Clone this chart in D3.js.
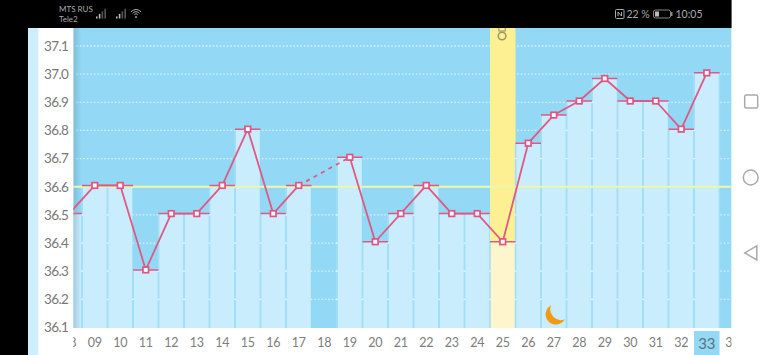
<!DOCTYPE html>
<html>
<head>
<meta charset="utf-8">
<script src="https://cdn.jsdelivr.net/npm/d3@7"></script>
<style>
  html, body { margin: 0; padding: 0; background: #fff; }
  svg { display: block; }
  text { font-family: Lato, sans-serif; }
</style>
</head>
<body>
<div class="canvas"></div>
<script>
// chart data
const days = ['08','09','10','11','12','13','14','15','16','17','18','19','20','21','22','23','24','25','26','27','28','29','30','31','32','33','34'];
const temps = [36.5,36.6,36.6,36.3,36.5,36.5,36.6,36.8,36.5,36.6,null,36.7,36.4,36.5,36.6,36.5,36.5,36.4,36.75,36.85,36.9,36.98,36.9,36.9,36.8,37.0,null];
const yTicks = [36.1,36.2,36.3,36.4,36.5,36.6,36.7,36.8,36.9,37.0,37.1];
const coverline = 36.6;
const ovulationDay = '25';
const moonDay = '27';
const todayDay = '33';

const svg = d3.select('.canvas').append('svg').attr('width', 770).attr('height', 355);

// plot area inside the phone screenshot
const plot = {left: 73.3, right: 731.6, top: 28, bottom: 328};

// scales
const x = d3.scaleBand().domain(days).range([56.5, 745]);
const y = d3.scaleLinear().domain([36.1, 37.1]).range([327.5, 46]);
// the temperature marks sit a bit above their grid lines in the app
const yMark = d3.scaleLinear().domain([36.1, 37.1]).range([326.2, 44.7]);
const cx = d => x(d) + x.bandwidth() / 2;

// phone chrome behind the chart
svg.append('rect').attr('width', 28).attr('height', 355).attr('fill', '#000');
svg.append('rect').attr('x', 28).attr('y', 28).attr('width', 10.3).attr('height', 327).attr('fill', '#cfeefb');

const defs = svg.append('defs');
defs.append('clipPath').attr('id', 'plotClip').append('rect')
  .attr('x', plot.left).attr('y', plot.top)
  .attr('width', plot.right - plot.left).attr('height', plot.bottom - plot.top);
defs.append('clipPath').attr('id', 'axisClip').append('rect')
  .attr('x', plot.left).attr('y', plot.bottom)
  .attr('width', plot.right - plot.left).attr('height', 355 - plot.bottom);
const shade = defs.append('linearGradient').attr('id', 'edgeShade');
shade.append('stop').attr('offset', 0).attr('stop-color', '#5b8ca5').attr('stop-opacity', 0.35);
shade.append('stop').attr('offset', 1).attr('stop-color', '#5b8ca5').attr('stop-opacity', 0);

const graph = svg.append('g').attr('clip-path', 'url(#plotClip)');

graph.append('rect')
  .attr('x', plot.left).attr('y', plot.top)
  .attr('width', plot.right - plot.left).attr('height', plot.bottom - plot.top)
  .attr('fill', '#93d8f4');

// dotted grid
graph.selectAll('.grid').data(yTicks.slice(1)).enter().append('line')
  .attr('x1', plot.left + 3).attr('x2', plot.right)
  .attr('y1', d => y(d)).attr('y2', d => y(d))
  .attr('stroke', '#d8f3fd').attr('stroke-width', 1.3).attr('stroke-dasharray', '1.5 2');

// ovulation day column
graph.append('rect')
  .attr('x', x(ovulationDay)).attr('y', plot.top)
  .attr('width', x.bandwidth()).attr('height', plot.bottom - plot.top)
  .attr('fill', '#fdf093');

// temperature bars
const barData = days.map((d, i) => ({day: d, temp: temps[i]})).filter(d => d.temp !== null);
graph.selectAll('.bar').data(barData).enter().append('rect')
  .attr('x', d => x(d.day) + 0.7)
  .attr('y', d => yMark(d.temp))
  .attr('width', x.bandwidth() - 1.4)
  .attr('height', d => plot.bottom - yMark(d.temp))
  .attr('fill', d => d.day === ovulationDay ? '#fdf6cc' : '#c9edfd');

// column separators
graph.selectAll('.sep').data(barData).enter().append('line')
  .attr('x1', d => x(d.day)).attr('x2', d => x(d.day))
  .attr('y1', d => yMark(d.temp)).attr('y2', plot.bottom)
  .attr('stroke', '#a3def6').attr('stroke-width', 1.4);

// right edge of the last bar
const lastBar = barData[barData.length - 1];
graph.append('line')
  .attr('x1', x(lastBar.day) + x.bandwidth()).attr('x2', x(lastBar.day) + x.bandwidth())
  .attr('y1', yMark(lastBar.temp)).attr('y2', plot.bottom)
  .attr('stroke', '#a3def6').attr('stroke-width', 1.4);

// the grid shows through as small gaps on the separators
barData.forEach(d => {
  yTicks.slice(1).filter(t => y(t) > yMark(d.temp) + 2 && t !== coverline).forEach(t => {
    graph.append('line')
      .attr('x1', x(d.day) - 1).attr('x2', x(d.day) + 1)
      .attr('y1', y(t)).attr('y2', y(t))
      .attr('stroke', '#e4f7fe').attr('stroke-width', 1.3);
  });
});

// shadow on the left edge, the chart scrolls under the axis
graph.append('rect')
  .attr('x', plot.left).attr('y', plot.top)
  .attr('width', 8).attr('height', plot.bottom - plot.top)
  .attr('fill', 'url(#edgeShade)');

// coverline
graph.append('line')
  .attr('x1', plot.left).attr('x2', plot.right)
  .attr('y1', y(coverline)).attr('y2', y(coverline))
  .attr('stroke', '#eef6a8').attr('stroke-width', 1.8);

// temperature line, a gap in the data is bridged by a dashed piece
const pink = '#dd5a84';
const line = d3.line().x(d => cx(d.day)).y(d => yMark(d.temp));
for (let i = 1; i < barData.length; i++) {
  const a = barData[i - 1], b = barData[i];
  const skipped = days.indexOf(b.day) - days.indexOf(a.day) > 1;
  graph.append('path')
    .attr('d', line([a, b]))
    .attr('fill', 'none')
    .attr('stroke', pink)
    .attr('stroke-width', 1.8)
    .attr('stroke-dasharray', skipped ? '4 4.5' : null);
}

// tick mark across each column + square marker
graph.selectAll('.cap').data(barData).enter().append('line')
  .attr('x1', d => x(d.day)).attr('x2', d => x(d.day) + x.bandwidth())
  .attr('y1', d => yMark(d.temp)).attr('y2', d => yMark(d.temp))
  .attr('stroke', pink).attr('stroke-width', 1.5);
graph.selectAll('.marker').data(barData).enter().append('rect')
  .attr('x', d => cx(d.day) - 2.8)
  .attr('y', d => yMark(d.temp) - 2.8)
  .attr('width', 5.6).attr('height', 5.6)
  .attr('fill', '#fff').attr('stroke', '#e4527f').attr('stroke-width', 1.7);

// ovulation icon, cut off by the status bar
const ov = graph.append('g').attr('transform', `translate(${cx(ovulationDay) - 0.7}, 0)`);
ov.append('circle').attr('cy', 36).attr('r', 3.8).attr('fill', 'none').attr('stroke', '#9a9a68').attr('stroke-width', 1.6);
ov.append('rect').attr('x', -3.2).attr('y', 27).attr('width', 6.4).attr('height', 4).attr('fill', 'none').attr('stroke', '#9a9a68').attr('stroke-width', 1.1);

// moon icon
graph.append('path')
  .attr('transform', `translate(${cx(moonDay)}, ${y(36.14)})`)
  .attr('d', 'M-2.5,-11 A10.2,10.2 0 1,0 11,3 A10.5,10.5 0 0,1 -2.5,-11 Z')
  .attr('fill', '#f39a14');

// axes
const yAxis = d3.axisLeft(y).tickValues(yTicks).tickFormat(d3.format('.1f')).tickSize(0).tickPadding(5);
const yAxisGroup = svg.append('g').attr('transform', `translate(${plot.left}, 0)`).call(yAxis);
yAxisGroup.select('.domain').remove();
yAxisGroup.selectAll('text')
  .attr('font-size', 13.5).attr('fill', '#777').attr('letter-spacing', -0.6)
  .style('font-family', 'Lato, sans-serif');

// today highlight under the x axis label
const xWrap = svg.append('g').attr('clip-path', 'url(#axisClip)');
xWrap.append('rect')
  .attr('x', x(todayDay)).attr('y', 331)
  .attr('width', x.bandwidth()).attr('height', 24)
  .attr('fill', '#93d8f4');
const xAxis = d3.axisBottom(x).tickSize(0).tickPadding(10);
const xAxisGroup = xWrap.append('g').attr('transform', `translate(0, ${plot.bottom})`).call(xAxis);
xAxisGroup.select('.domain').remove();
xAxisGroup.selectAll('text')
  .attr('font-size', d => d === todayDay ? 15 : 12.5)
  .attr('letter-spacing', -0.2)
  .attr('fill', d => d === todayDay ? '#5f7280' : '#7d7d7d')
  .style('font-family', 'Lato, sans-serif');

// status bar
svg.append('rect').attr('width', plot.right).attr('height', 28).attr('fill', '#000');
const statusText = (t, px, py, size) => svg.append('text')
  .attr('x', px).attr('y', py).attr('font-size', size).attr('fill', '#aaa').text(t);
statusText('MTS RUS', 59, 12, 8);
statusText('Tele2', 59, 22, 8);
statusText('22 %', 626.5, 18, 10.5);
statusText('10:05', 675.5, 18, 10.5);

// signal bars
[96, 116].forEach(a => {
  d3.range(4).forEach(k => {
    const h = 2 + k * 2.6;
    svg.append('rect').attr('x', a + k * 2.8).attr('y', 18.5 - h).attr('width', 1.6).attr('height', h)
      .attr('fill', k < 2 ? '#bbb' : '#555');
  });
});
// wifi
[6.5, 4.3, 2.2].forEach(r => {
  const dx = r * 0.8, dy = r * 0.6;
  svg.append('path').attr('d', `M${136 - dx},${17 - dy} A${r},${r} 0 0,1 ${136 + dx},${17 - dy}`)
    .attr('transform', 'translate(0,-1)')
    .attr('fill', 'none').attr('stroke', '#aaa').attr('stroke-width', 1);
});
svg.append('circle').attr('cx', 136).attr('cy', 17).attr('r', 0.9).attr('fill', '#aaa');
// nfc
svg.append('rect').attr('x', 615.5).attr('y', 9.5).attr('width', 8.5).attr('height', 9).attr('rx', 1).attr('fill', 'none').attr('stroke', '#aaa');
svg.append('path').attr('d', 'M618,16 V12 L621.5,16 V12').attr('fill', 'none').attr('stroke', '#aaa');
// battery
svg.append('rect').attr('x', 653.5).attr('y', 10).attr('width', 17).attr('height', 8).attr('rx', 2).attr('fill', 'none').attr('stroke', '#888');
svg.append('rect').attr('x', 655).attr('y', 11.5).attr('width', 4).attr('height', 5).attr('fill', '#bbb');
svg.append('rect').attr('x', 671).attr('y', 12).attr('width', 1.5).attr('height', 4).attr('fill', '#888');

// navigation bar
svg.append('rect').attr('x', 744.7).attr('y', 95).attr('width', 13).attr('height', 13).attr('rx', 1.5)
  .attr('fill', 'none').attr('stroke', '#aaa').attr('stroke-width', 1.5);
svg.append('circle').attr('cx', 750.7).attr('cy', 177.5).attr('r', 7.4)
  .attr('fill', 'none').attr('stroke', '#aaa').attr('stroke-width', 1.5);
svg.append('path').attr('d', 'M756.8,245.8 V260 L744.8,252.9 Z')
  .attr('fill', 'none').attr('stroke', '#aaa').attr('stroke-width', 1.5);
</script>
</body>
</html>
